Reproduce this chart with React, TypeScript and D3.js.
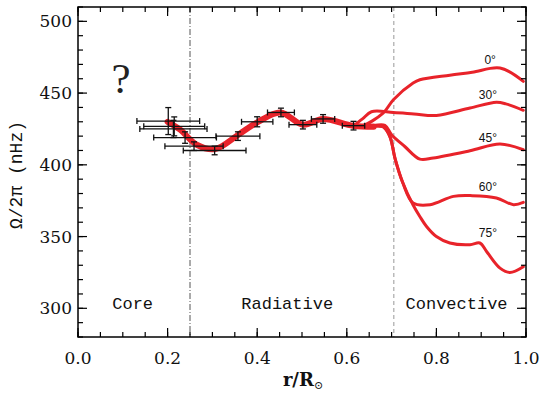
import * as d3 from "d3";

const width = 540;
const height = 394;
const marginTop = 7;
const marginRight = 14;
const marginBottom = 57;
const marginLeft = 78;

// axis ticks
const xTicks = [0, 0.2, 0.4, 0.6, 0.8, 1.0];
const yTicks = [300, 350, 400, 450, 500];
const xMinorStep = 0.05;
const yMinorStep = 10;

// helioseismic inversion points with error bars
const pointR = [0.2015, 0.2148, 0.213, 0.239, 0.259, 0.305, 0.357, 0.4, 0.453, 0.502, 0.547, 0.615];
const pointOmega = [430.5, 426.8, 425, 419, 413, 410, 420, 430, 436.5, 428, 432, 427.3];
const pointRErr = [0.07, 0.068, 0.075, 0.07, 0.065, 0.07, 0.049, 0.035, 0.03, 0.031, 0.026, 0.025];
const pointOmegaErr = [9.4, 6.6, 6, 4, 3, 3, 3, 3.5, 3, 3, 3, 3];

// mean rotation through the radiative interior
const meanR = [0.2, 0.228, 0.265, 0.306, 0.358, 0.402, 0.452, 0.502, 0.546, 0.614, 0.66];
const meanOmega = [430, 424.5, 414, 411, 421, 430, 436.5, 428, 432, 427.3, 426.5];

// convection zone, by latitude
const lat0 = [[0.614, 427], [0.633, 427], [0.681, 436], [0.704, 445.4], [0.748, 457], [0.763, 459.3], [0.83, 462.5], [0.88, 464.5], [0.942, 467.5], [0.994, 458.2]];
const lat30 = [[0.614, 427], [0.635, 432], [0.655, 437], [0.704, 436.5], [0.75, 435.5], [0.8, 434.4], [0.875, 439.6], [0.934, 443.6], [0.955, 442.5], [0.994, 438]];
const lat45 = [[0.614, 427], [0.66, 427.5], [0.685, 427.5], [0.7, 421], [0.73, 412.6], [0.763, 404], [0.793, 404.8], [0.875, 409.8], [0.942, 414.5], [0.994, 410.5]];
const lat60 = [[0.614, 427], [0.66, 427], [0.681, 426.5], [0.696, 419.8], [0.708, 404], [0.725, 387.5], [0.748, 373.4], [0.786, 372.2], [0.838, 378], [0.88, 378.5], [0.934, 376.9], [0.972, 372.2], [0.994, 373.8]];
const lat75 = [[0.614, 427], [0.66, 427], [0.681, 426.5], [0.696, 419.8], [0.708, 404], [0.725, 387.5], [0.748, 372], [0.763, 364], [0.778, 357], [0.8, 350], [0.83, 345.5], [0.875, 344.3], [0.897, 345.5], [0.912, 339.6], [0.942, 328], [0.964, 325], [0.994, 329]];
const latLabels = ["0°", "30°", "45°", "60°", "75°"];
const latLabelPos = [[0.92, 470], [0.915, 446], [0.915, 415.6], [0.915, 381.5], [0.915, 349.7]];

const coreEdge = 0.25;
const convectionBase = 0.705;
const regions = ["Core", "Radiative", "Convective"];
const regionCenters = [0.122, 0.467, 0.845];

const red = "#e8232a";

export default function App() {
  const x = d3.scaleLinear([0, 1], [marginLeft, width - marginRight]);
  const y = d3.scaleLinear([280, 510], [height - marginBottom, marginTop]);
  const x0 = marginLeft, x1 = width - marginRight;
  const y0 = height - marginBottom, y1 = marginTop;

  const line = d3.line<number[]>((d) => x(d[0]), (d) => y(d[1])).curve(d3.curveCatmullRom.alpha(0.5));
  const meanData = meanR.map((r, i) => [r, meanOmega[i]]);
  const lats = [lat0, lat30, lat45, lat60, lat75];

  const xMinor = d3.range(0, 1.0001, xMinorStep);
  const yMinor = d3.range(280, 510.001, yMinorStep);

  const tickFont = "'DejaVu Serif', serif";
  const monoFont = "'Liberation Mono', 'Courier New', monospace";

  return (
    <svg width={width} height={height} style={{ position: "absolute", left: 0, top: 0, background: "#fff" }}>
      {/* boundaries */}
      <line x1={x(coreEdge)} x2={x(coreEdge)} y1={y1} y2={y0} stroke="#555" strokeWidth={1} strokeDasharray="6,2,1,2" />
      <line x1={x(convectionBase)} x2={x(convectionBase)} y1={y1} y2={y0} stroke="#999" strokeWidth={1} strokeDasharray="4,3" />

      {/* latitude profiles */}
      <g fill="none" stroke={red} strokeWidth={3} strokeLinejoin="round" strokeLinecap="round">
        {lats.map((d, i) => (<path key={i} d={line(d as number[][]) || ""} />))}
      </g>
      <path d={line(meanData) || ""} fill="none" stroke={red} strokeWidth={6} strokeLinejoin="round" strokeLinecap="round" />

      {/* error bars */}
      <g stroke="#111" strokeWidth={1.3}>
        {pointR.map((r, i) => {
          const cx = x(r), cy = y(pointOmega[i]);
          const xl = x(r - pointRErr[i]), xr = x(r + pointRErr[i]);
          const yt = y(pointOmega[i] + pointOmegaErr[i]), yb = y(pointOmega[i] - pointOmegaErr[i]);
          return (
            <g key={i}>
              <line x1={xl} x2={xr} y1={cy} y2={cy} />
              <line x1={xl} x2={xl} y1={cy - 3} y2={cy + 3} />
              <line x1={xr} x2={xr} y1={cy - 3} y2={cy + 3} />
              <line x1={cx} x2={cx} y1={yt} y2={yb} />
              <line x1={cx - 3} x2={cx + 3} y1={yt} y2={yt} />
              <line x1={cx - 3} x2={cx + 3} y1={yb} y2={yb} />
            </g>
          );
        })}
      </g>

      {/* frame and ticks */}
      <rect x={x0} y={y1} width={x1 - x0} height={y0 - y1} fill="none" stroke="#000" strokeWidth={1.5} />
      <g stroke="#000" strokeWidth={1.2}>
        {xMinor.map((t, i) => (
          <g key={i}>
            <line x1={x(t)} x2={x(t)} y1={y0} y2={y0 - 5} />
            <line x1={x(t)} x2={x(t)} y1={y1} y2={y1 + 5} />
          </g>
        ))}
        {xTicks.map((t, i) => (
          <g key={i}>
            <line x1={x(t)} x2={x(t)} y1={y0} y2={y0 - 9} />
            <line x1={x(t)} x2={x(t)} y1={y1} y2={y1 + 9} />
          </g>
        ))}
        {yMinor.map((t, i) => (
          <g key={i}>
            <line x1={x0} x2={x0 + 5} y1={y(t)} y2={y(t)} />
            <line x1={x1} x2={x1 - 5} y1={y(t)} y2={y(t)} />
          </g>
        ))}
        {yTicks.map((t, i) => (
          <g key={i}>
            <line x1={x0} x2={x0 + 9} y1={y(t)} y2={y(t)} />
            <line x1={x1} x2={x1 - 9} y1={y(t)} y2={y(t)} />
          </g>
        ))}
      </g>

      {/* tick labels */}
      <g fontFamily={tickFont} fontSize={17} fill="#111">
        {xTicks.map((t, i) => (
          <text key={i} x={x(t)} y={364} textAnchor="middle">{t.toFixed(1)}</text>
        ))}
        {yTicks.map((t, i) => (
          <text key={i} x={x0 - 6} y={y(t) + 6} textAnchor="end">{t}</text>
        ))}
      </g>

      {/* axis titles */}
      <text x={303} y={386} textAnchor="middle" fontFamily={tickFont} fontWeight="bold" fontSize={18} fill="#111">
        r/R<tspan fontSize={11} fontWeight="normal" dy={3}>⊙</tspan>
      </text>
      <text transform={`translate(22,${(y0 + y1) / 2 + 3}) rotate(-90)`} textAnchor="middle" fontFamily={monoFont} fontSize={18} fill="#111">
        Ω/2π (nHz)
      </text>

      {/* region labels */}
      <g fontFamily={monoFont} fontSize={17} fill="#111" textAnchor="middle">
        {regions.map((r, i) => (
          <text key={r} x={x(regionCenters[i])} y={309}>{r}</text>
        ))}
      </g>

      {/* latitude labels */}
      <g fontFamily="'Liberation Sans', Arial, sans-serif" fontSize={12} fill="#111" textAnchor="middle">
        {latLabels.map((l, i) => (
          <text key={l} x={x(latLabelPos[i][0])} y={y(latLabelPos[i][1])}>{l}</text>
        ))}
      </g>

      <text x={121} y={93} textAnchor="middle" fontFamily="'Liberation Serif', serif" fontSize={43} fill="#222">?</text>
    </svg>
  );
}
